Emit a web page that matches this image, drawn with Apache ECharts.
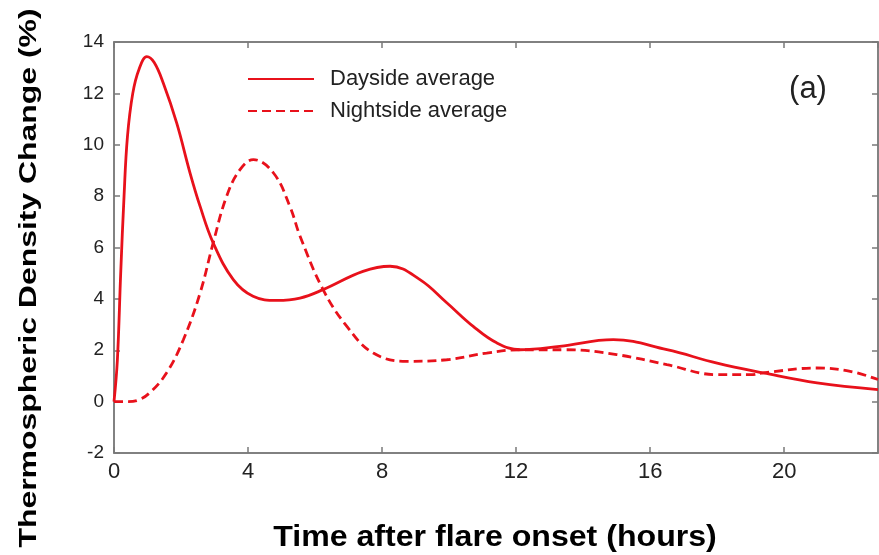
<!DOCTYPE html>
<html>
<head>
<meta charset="utf-8">
<script src="https://cdn.jsdelivr.net/npm/echarts@6/dist/echarts.min.js"></script>
<style>
html,body{margin:0;padding:0;background:#fff;}
#chart{width:879px;height:555px;}
</style>
</head>
<body>
<div id="chart"></div>
<script>
// Data
var dayHours = [0, 0.1, 0.2, 0.3, 0.4, 0.56, 0.75, 0.98, 1.2, 1.47, 1.87, 2.27, 2.57, 2.96, 3.56, 4.15, 4.86, 5.55, 6.24, 7.43, 8.24, 9.13, 9.93, 10.72, 11.42, 12.12, 13.3, 14.9, 16.5, 18.0, 19.38, 20.98, 22.8];
var dayValues = [0, 1.6, 5.0, 8.0, 10.3, 12.0, 12.95, 13.43, 13.2, 12.4, 10.85, 8.9, 7.6, 6.18, 4.75, 4.1, 3.94, 4.03, 4.36, 5.07, 5.27, 4.75, 3.85, 2.93, 2.29, 2.02, 2.15, 2.41, 2.02, 1.5, 1.12, 0.73, 0.47];

var nightHours = [0, 0.4, 0.7, 1.07, 1.57, 2.07, 2.57, 2.96, 3.36, 3.76, 4.16, 4.76, 5.25, 5.55, 6.24, 6.95, 7.74, 8.74, 9.93, 11.12, 12.12, 13.5, 15.0, 16.5, 18.0, 19.0, 19.38, 20.98, 21.97, 22.8];
var nightValues = [0, 0, 0.05, 0.35, 1.12, 2.41, 4.23, 6.18, 7.99, 9.03, 9.42, 8.9, 7.6, 6.45, 4.36, 2.93, 1.89, 1.57, 1.63, 1.89, 2.02, 2.02, 1.83, 1.44, 1.05, 1.05, 1.12, 1.31, 1.18, 0.86];

var seriesNames = ['Dayside average', 'Nightside average'];
var xTitle = 'Time after flare onset (hours)';
var yTitle = 'Thermospheric Density Change (%)';
var panelLabel = '(a)';

function pairs(xs, ys) { return xs.map(function (x, i) { return [x, ys[i]]; }); }

var red = '#e8111b';
var axisGrey = '#7a7a7a';
var fontFam = '"Liberation Sans", Arial, sans-serif';

var chart = echarts.init(document.getElementById('chart'));
chart.setOption({
  backgroundColor: '#fff',
  animation: false,
  grid: { left: 114, top: 42, right: 1, bottom: 102, show: true, borderColor: axisGrey, borderWidth: 1.5, containLabel: false },
  legend: {
    orient: 'vertical', left: 242, top: 63, itemWidth: 66, itemHeight: 14, itemGap: 10,
    itemStyle: { opacity: 0 },
    textStyle: { fontSize: 22, color: '#222', fontFamily: fontFam, padding: [0, 0, 0, 11] },
    data: seriesNames
  },
  graphic: [
    { type: 'text', x: 495, y: 538, scaleX: 1.07, style: { text: xTitle, font: 'bold 30px ' + fontFam, fill: '#000', textAlign: 'center', textVerticalAlign: 'middle' } },
    { type: 'text', x: 29, y: 278, rotation: Math.PI / 2, scaleX: 1.33, style: { text: yTitle, font: 'bold 24px ' + fontFam, fill: '#000', textAlign: 'center', textVerticalAlign: 'middle' } },
    { type: 'text', x: 808, y: 89, style: { text: panelLabel, font: '31px ' + fontFam, fill: '#222', textAlign: 'center', textVerticalAlign: 'middle' } }
  ],
  xAxis: [
    { type: 'value', position: 'bottom', min: 0, max: 22.8, interval: 4,
      axisLine: { show: true, onZero: false, lineStyle: { color: axisGrey, width: 1.5 } },
      axisTick: { show: true, inside: true, length: 6, lineStyle: { color: axisGrey, width: 1.5 } },
      axisLabel: { fontSize: 22, color: '#222', fontFamily: fontFam, margin: 8, showMaxLabel: false },
      splitLine: { show: false } },
    { type: 'value', position: 'top', min: 0, max: 22.8, interval: 4,
      axisLine: { show: true, onZero: false, lineStyle: { color: axisGrey, width: 1.5 } },
      axisTick: { show: true, inside: true, length: 6, lineStyle: { color: axisGrey, width: 1.5 } },
      axisLabel: { show: false }, splitLine: { show: false } }
  ],
  yAxis: [
    { type: 'value', position: 'left', min: -2, max: 14, interval: 2,
      axisLine: { show: true, onZero: false, lineStyle: { color: axisGrey, width: 1.5 } },
      axisTick: { show: true, inside: true, length: 6, lineStyle: { color: axisGrey, width: 1.5 } },
      axisLabel: { fontSize: 19, color: '#222', fontFamily: fontFam, margin: 10 },
      splitLine: { show: false } },
    { type: 'value', position: 'right', min: -2, max: 14, interval: 2,
      axisLine: { show: true, onZero: false, lineStyle: { color: axisGrey, width: 1.5 } },
      axisTick: { show: true, inside: true, length: 6, lineStyle: { color: axisGrey, width: 1.5 } },
      axisLabel: { show: false }, splitLine: { show: false } }
  ],
  series: [
    { name: seriesNames[0], type: 'line', xAxisIndex: 0, yAxisIndex: 0, data: pairs(dayHours, dayValues),
      smooth: 0.4, symbol: 'none', clip: true,
      lineStyle: { color: red, width: 2.8, type: 'solid' }, itemStyle: { color: red } },
    { name: seriesNames[1], type: 'line', xAxisIndex: 0, yAxisIndex: 0, data: pairs(nightHours, nightValues),
      smooth: 0.4, symbol: 'none', clip: true,
      lineStyle: { color: red, width: 2.8, type: [9, 5] }, itemStyle: { color: red } }
  ]
});
</script>
</body>
</html>
